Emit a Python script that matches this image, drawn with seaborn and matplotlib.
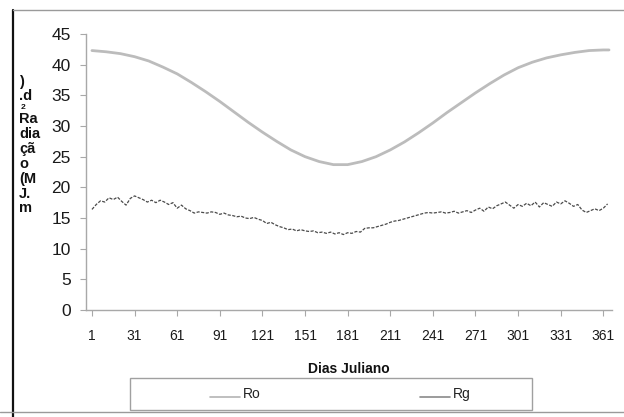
import matplotlib
matplotlib.use("Agg")
import matplotlib.pyplot as plt
from matplotlib.lines import Line2D
from matplotlib.patches import Rectangle
from matplotlib.legend_handler import HandlerLine2D
import pandas as pd
import seaborn as sns

# Extraterrestrial radiation Ro, read every 10 days (MJ m-2 d-1)
ro_days = [1, 11, 21, 31, 41, 51, 61, 71, 81, 91, 101, 111, 121, 131, 141, 151,
           161, 171, 181, 191, 201, 211, 221, 231, 241, 251, 261, 271, 281, 291,
           301, 311, 321, 331, 341, 351, 361, 365]
ro_vals = [42.3, 42.1, 41.8, 41.3, 40.6, 39.6, 38.5, 37.1, 35.6, 34.0, 32.3, 30.6,
           29.0, 27.5, 26.1, 25.0, 24.2, 23.7, 23.7, 24.2, 25.0, 26.1, 27.4, 28.9,
           30.5, 32.2, 33.8, 35.4, 36.9, 38.3, 39.5, 40.4, 41.1, 41.6, 42.0, 42.3,
           42.4, 42.4]

# Global radiation Rg, every 3 days starting at day 1
rg_vals = [16.4, 17.2, 17.8, 17.6, 18.3, 18.0, 18.4, 17.7, 17.1, 18.2, 18.6, 18.3,
           18.0, 17.6, 17.9, 17.5, 17.9, 17.6, 17.2, 17.5, 16.6, 17.1, 16.5, 16.2,
           15.8, 16.0, 15.9, 15.8, 16.0, 15.9, 15.6, 15.8, 15.5, 15.4, 15.2, 15.3,
           15.0, 14.9, 15.1, 14.8, 14.6, 14.1, 14.3, 13.9, 13.6, 13.4, 13.1, 13.2,
           12.9, 13.1, 12.9, 12.8, 12.9, 12.6, 12.7, 12.5, 12.7, 12.4, 12.6, 12.3,
           12.6, 12.5, 12.8, 12.7, 13.3, 13.4, 13.4, 13.6, 13.8, 14.0, 14.3, 14.5,
           14.6, 14.8, 15.0, 15.2, 15.4, 15.6, 15.8, 15.9, 15.8, 15.9, 16.0, 15.8,
           15.9, 16.1, 15.8, 16.0, 16.2, 15.9, 16.3, 16.6, 16.1, 16.8, 16.5, 17.0,
           17.3, 17.6, 17.1, 16.6, 17.2, 16.9, 17.4, 17.0, 17.6, 16.8, 17.5, 17.2,
           16.9, 17.6, 17.3, 17.8, 17.4, 16.9, 17.2, 16.3, 15.9, 16.2, 16.5, 16.2,
           16.6, 17.3]
rg_days = list(range(1, 3 * len(rg_vals), 3))

x_ticks = list(range(1, 362, 30))
y_ticks = list(range(0, 46, 5))
ylabel_lines = [")", ".d", "Ra", "dia", "çã", "o", "(M", "J.", "m"]

sns.set_theme(style="white")
plt.rcParams["font.family"] = ["Liberation Sans", "DejaVu Sans"]

W, H = 624, 417
fig = plt.figure(figsize=(W / 100, H / 100), dpi=100)
ax = fig.add_axes([86 / W, 1 - 310 / H, (612 - 86) / W, (310 - 34) / H])

ro_df = pd.DataFrame({"dia": ro_days, "rad": ro_vals})
rg_df = pd.DataFrame({"dia": rg_days, "rad": rg_vals})

sns.lineplot(data=ro_df, x="dia", y="rad", ax=ax, color="#bcbcbc", lw=2.0,
             label="Ro")
sns.lineplot(data=rg_df, x="dia", y="rad", ax=ax, color="#4a4a4a", lw=0.9,
             linestyle=(0, (2.5, 1.2)), label="Rg")

ax.set_xlim(-3.2, 367.1)
ax.set_ylim(0, 45)
ax.set_xticks(x_ticks)
ax.set_yticks(y_ticks)
ax.set_xlabel("")
ax.set_ylabel("")
for side in ("top", "right"):
    ax.spines[side].set_visible(False)
for side in ("left", "bottom"):
    ax.spines[side].set_color("#a8a8a8")
    ax.spines[side].set_linewidth(1.0)
ax.tick_params(axis="y", direction="out", length=4, width=0.8, color="#a8a8a8",
               labelsize=12.5, labelcolor="#1a1a1a", pad=7, left=True)
ax.tick_params(axis="x", direction="out", length=4, width=0.8, color="#a8a8a8",
               labelsize=10, labelcolor="#1a1a1a", pad=10, bottom=True)
ax.legend_.remove()

# x axis title
fig.text(349 / W, 1 - 369 / H, "Dias Juliano", ha="center", va="center",
         fontsize=10, fontweight="bold", color="#111111")

# wrapped y axis title
y_pos = [82, 96, 119, 134, 149, 164, 179, 194, 208]
for s, yy in zip(ylabel_lines, y_pos):
    fig.text(19 / W, 1 - yy / H, s, ha="left", va="center", fontsize=10.5,
             fontweight="bold", color="#111111")
fig.text(21 / W, 1 - 107.5 / H, "2", ha="left", va="center", fontsize=6,
         fontweight="bold", color="#111111")

# legend with a separate frame
fig.add_artist(Rectangle((130 / W, 1 - 410 / H), 402 / W, 32 / H,
                         transform=fig.transFigure, fill=False,
                         edgecolor="#a0a0a0", lw=1.0))


class LowLine(HandlerLine2D):
    def create_artists(self, legend, orig_handle, xdescent, ydescent, width,
                       height, fontsize, trans):
        arts = super().create_artists(legend, orig_handle, xdescent, ydescent,
                                      width, height, fontsize, trans)
        for a in arts:
            if isinstance(a, Line2D):
                yd = a.get_ydata()
                a.set_ydata([v - 0.38 * height for v in yd])
        return arts


handles = [Line2D([], [], color="#b4b4b4", lw=1.2),
           Line2D([], [], color="#8a8a8a", lw=1.2)]
fig.legend(handles, ["Ro", "Rg"], loc="center",
           bbox_to_anchor=(340 / W, 1 - 394 / H), ncol=2, frameon=False,
           fontsize=10, handlelength=2.2, handletextpad=0.15,
           columnspacing=11.5, labelcolor="#222222",
           handler_map={Line2D: LowLine()})

# page frame lines
fig.add_artist(Line2D([13 / W, 13 / W], [0, 1 - 10 / H], transform=fig.transFigure,
                      color="#111111", lw=1.6))
fig.add_artist(Line2D([13 / W, 1], [1 - 10 / H, 1 - 10 / H],
                      transform=fig.transFigure, color="#9a9a9a", lw=1.0))
fig.add_artist(Line2D([0, 1], [1 - 412 / H, 1 - 412 / H],
                      transform=fig.transFigure, color="#9a9a9a", lw=1.0))

fig.savefig("out.png", dpi=100)
